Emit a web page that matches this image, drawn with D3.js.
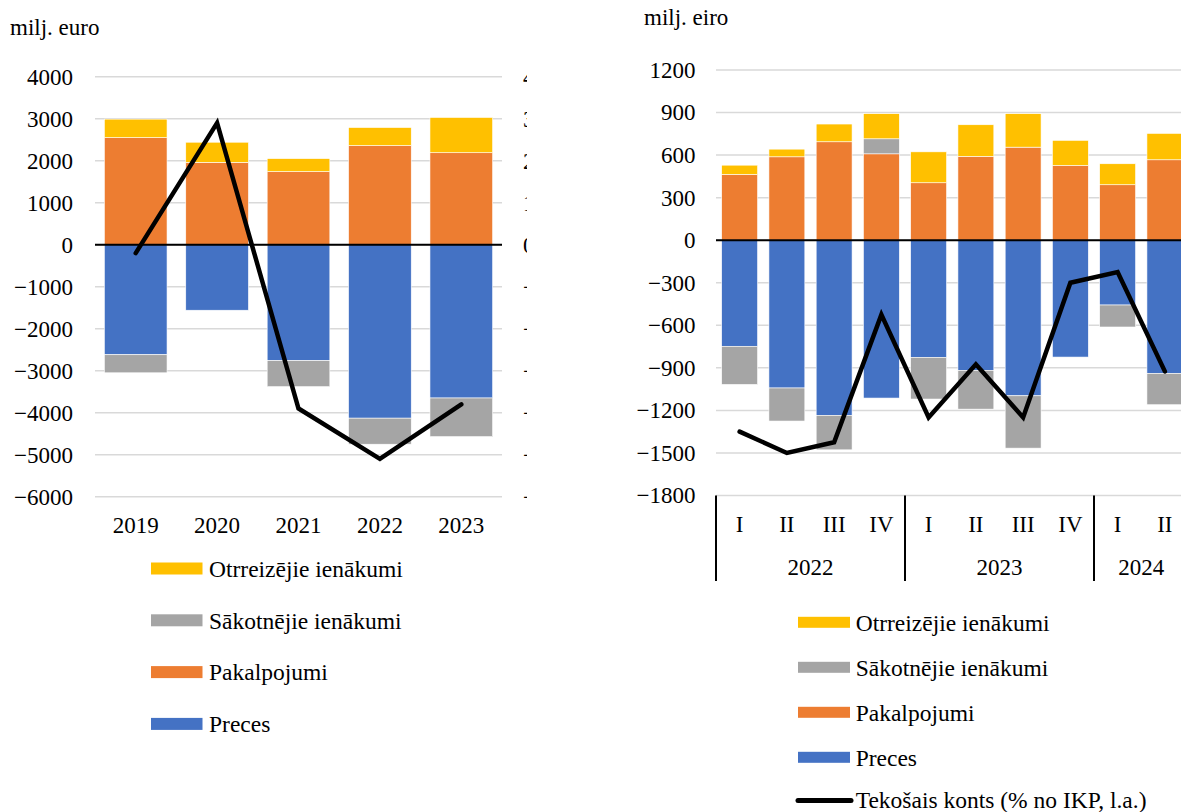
<!DOCTYPE html>
<html>
<head>
<meta charset="utf-8">
<script src="https://cdn.jsdelivr.net/npm/d3@7"></script>
<style>
  html, body { margin: 0; padding: 0; background: #fff; }
  svg { display: block; }
  text { font-family: "Liberation Serif", "Times New Roman", serif; fill: #000; }
</style>
</head>
<body>
<svg id="chart" width="1181" height="812"></svg>
<script>
// ---------- DATA ----------
const seriesNames = ["Preces", "Pakalpojumi", "Sākotnējie ienākumi", "Otrreizējie ienākumi"];
const seriesColors = ["#4472C4", "#ED7D31", "#A5A5A5", "#FFC000"];
const legendOrder = ["Otrreizējie ienākumi", "Sākotnējie ienākumi", "Pakalpojumi", "Preces"];
const lineName = "Tekošais konts (% no IKP, l.a.)";

// Annual panel (milj. euro)
const years = ["2019", "2020", "2021", "2022", "2023"];
const annualGoods = [-2620, -1560, -2760, -4130, -3650];
const annualServices = [2550, 1960, 1740, 2360, 2190];
const annualPrimary = [-430, 0, -620, -620, -920];
const annualSecondary = [440, 480, 310, 430, 840];
const annualCA = [-0.2, 2.9, -3.9, -5.1, -3.8];
const leftTicks = [4000, 3000, 2000, 1000, 0, -1000, -2000, -3000, -4000, -5000, -6000];
const leftRightTicks = [4, 3, 2, 1, 0, -1, -2, -3, -4, -5, -6];

// Quarterly panel (milj. eiro)
const quarters = ["I", "II", "III", "IV", "I", "II", "III", "IV", "I", "II"];
const quarterYears = ["2022", "2022", "2022", "2022", "2023", "2023", "2023", "2023", "2024", "2024"];
const qGoods = [-748, -1042, -1235, -1113, -826, -918, -1097, -824, -457, -939];
const qServices = [464, 588, 694, 609, 405, 591, 656, 527, 391, 567];
const qPrimary = [-269, -233, -243, 106, -294, -273, -369, 0, -155, -221];
const qSecondary = [65, 54, 125, 177, 218, 223, 236, 177, 148, 186];
const qCA = [-5.4, -6.0, -5.7, -2.1, -5.0, -3.5, -5.0, -1.2, -0.9, -3.7];
const rightTicks = [1200, 900, 600, 300, 0, -300, -600, -900, -1200, -1500, -1800];

// ---------- HELPERS ----------
const svg = d3.select("#chart");
const FS = 23;
const LFS = 23.5;
const colorOf = d3.scaleOrdinal().domain(seriesNames).range(seriesColors);

function buildRows(cats, g, s, p, sec) {
  return cats.map((c, i) => ({
    key: i, cat: c,
    "Preces": g[i], "Pakalpojumi": s[i], "Sākotnējie ienākumi": p[i], "Otrreizējie ienākumi": sec[i]
  }));
}
const stacker = d3.stack().keys(seriesNames).offset(d3.stackOffsetDiverging);

function drawPanel(opt) {
  const g = svg.append("g");
  const x = d3.scaleBand().domain(opt.rows.map(r => r.key)).range(opt.xRange)
    .paddingInner(opt.padIn).paddingOuter(opt.padIn / 2);
  const y = d3.scaleLinear().domain(opt.yDomain).range(opt.yRange);
  const y2 = d3.scaleLinear().domain(opt.y2Domain).range(opt.yRange);

  // gridlines
  g.append("g").selectAll("line").data(opt.ticks).join("line")
    .attr("x1", opt.xRange[0]).attr("x2", opt.gridEnd)
    .attr("y1", d => y(d)).attr("y2", d => y(d))
    .attr("stroke", "#D9D9D9").attr("stroke-width", 1.5);

  // left axis labels (via d3 axis)
  const ax = g.append("g").attr("transform", `translate(${opt.xRange[0]},0)`)
    .call(d3.axisLeft(y).tickValues(opt.ticks).tickSize(0).tickPadding(opt.tickPad).tickFormat(d3.format("d")));
  ax.select(".domain").remove();
  ax.selectAll("text").style("font-size", FS + "px").style("font-family", "Liberation Serif, Times New Roman, serif").attr("fill", "#000");

  // bars
  const stacked = stacker(opt.rows);
  g.append("g").selectAll("g").data(stacked).join("g")
    .attr("fill", d => colorOf(d.key))
    .selectAll("rect").data(d => d).join("rect")
    .attr("x", d => x(d.data.key))
    .attr("width", x.bandwidth())
    .attr("y", d => y(Math.max(d[0], d[1])))
    .attr("height", d => Math.abs(y(d[0]) - y(d[1])))
    .attr("stroke", "#fff").attr("stroke-width", 0.6);

  // zero line
  g.append("line").attr("x1", opt.xRange[0]).attr("x2", opt.gridEnd)
    .attr("y1", y(0)).attr("y2", y(0)).attr("stroke", "#000").attr("stroke-width", 2);

  // line
  const line = d3.line().x((d, i) => x(i) + x.bandwidth() / 2).y(d => y2(d));
  g.append("path").datum(opt.lineVals).attr("d", line)
    .attr("fill", "none").attr("stroke", "#000").attr("stroke-width", 4.5)
    .attr("stroke-linejoin", "miter").attr("stroke-linecap", "round");

  return { g, x, y, y2 };
}

// ---------- LEFT PANEL ----------
const leftRows = buildRows(years, annualGoods, annualServices, annualPrimary, annualSecondary);
const L = drawPanel({
  rows: leftRows, xRange: [95, 502], gridEnd: 502, padIn: 0.23,
  yDomain: [-6000, 4000], yRange: [496.7, 76.7], y2Domain: [-6, 4],
  ticks: leftTicks, tickPad: 22, lineVals: annualCA
});
// year labels
L.g.append("g").selectAll("text").data(years).join("text")
  .attr("x", (d, i) => L.x(i) + L.x.bandwidth() / 2).attr("y", 525)
  .attr("text-anchor", "middle").attr("dy", "0.35em").style("font-size", FS + "px").text(d => d);
// secondary axis labels (clipped at the image edge of the panel)
svg.append("clipPath").attr("id", "clipL").append("rect").attr("x", 0).attr("y", 0).attr("width", 527).attr("height", 812);
const ra = svg.append("g").attr("clip-path", "url(#clipL)").append("g").attr("transform", "translate(502,0)")
  .call(d3.axisRight(L.y2).tickValues(leftRightTicks).tickSize(0).tickPadding(21).tickFormat(d3.format("d")));
ra.select(".domain").remove();
ra.selectAll("text").style("font-size", FS + "px").style("font-family", "Liberation Serif, Times New Roman, serif").attr("fill", "#000");
// unit title
svg.append("text").attr("x", 10).attr("y", 27).attr("dy", "0.35em").style("font-size", "23px").text("milj. euro");
// legend
const legL = svg.append("g").selectAll("g").data(legendOrder).join("g")
  .attr("transform", (d, i) => `translate(151,${568.5 + i * 51.8})`);
legL.append("rect").attr("x", 0).attr("y", -6).attr("width", 51.5).attr("height", 12).attr("fill", d => colorOf(d));
legL.append("text").attr("x", 58).attr("dy", "0.35em").style("font-size", LFS + "px").text(d => d);

// ---------- RIGHT PANEL ----------
const rightRows = buildRows(quarters, qGoods, qServices, qPrimary, qSecondary);
const R = drawPanel({
  rows: rightRows, xRange: [716, 1188.5], gridEnd: 1190, padIn: 0.24,
  yDomain: [-1800, 1200], yRange: [495.5, 70], y2Domain: [-7.2, 4.8],
  ticks: rightTicks, tickPad: 20.5, lineVals: qCA
});
// quarter labels
R.g.append("g").selectAll("text").data(quarters).join("text")
  .attr("x", (d, i) => R.x(i) + R.x.bandwidth() / 2).attr("y", 523.5)
  .attr("text-anchor", "middle").attr("dy", "0.35em").style("font-size", FS + "px").text(d => d);
// year group labels and separators
const groups = d3.groups(quarterYears.map((yv, i) => ({ yv, i })), d => d.yv);
const step = R.x.step();
R.g.append("g").selectAll("line").data(groups).join("line")
  .attr("x1", d => 716 + d[1][0].i * step).attr("x2", d => 716 + d[1][0].i * step)
  .attr("y1", 495.5).attr("y2", 581).attr("stroke", "#000").attr("stroke-width", 2);
R.g.append("g").selectAll("text").data(groups).join("text")
  .attr("x", d => 716 + (d[1][0].i + d[1].length / 2) * step).attr("y", 567)
  .attr("text-anchor", "middle").attr("dy", "0.35em").style("font-size", FS + "px").text(d => d[0]);
// unit title
svg.append("text").attr("x", 644).attr("y", 17).attr("dy", "0.35em").style("font-size", "23px").text("milj. eiro");
// legend
const legR = svg.append("g").selectAll("g").data(legendOrder).join("g")
  .attr("transform", (d, i) => `translate(798,${622.3 + i * 45})`);
legR.append("rect").attr("x", 0).attr("y", -5.5).attr("width", 52).attr("height", 11).attr("fill", d => colorOf(d));
legR.append("text").attr("x", 57.7).attr("dy", "0.35em").style("font-size", LFS + "px").text(d => d);
const legLine = svg.append("g").attr("transform", `translate(798,800.5)`);
legLine.append("line").attr("x1", 0).attr("x2", 53).attr("y1", 0).attr("y2", 0)
  .attr("stroke", "#000").attr("stroke-width", 5).attr("stroke-linecap", "round");
legLine.append("text").attr("x", 57.7).attr("dy", "0.3em").style("font-size", LFS + "px").text(lineName);
</script>
</body>
</html>
